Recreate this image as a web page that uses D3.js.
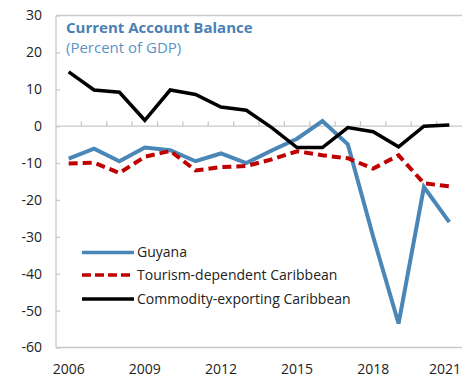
<!DOCTYPE html>
<html>
<head>
<meta charset="utf-8">
<script src="https://cdn.jsdelivr.net/npm/d3@7"></script>
<style>
  html, body { margin: 0; padding: 0; background: #fff; }
  svg { display: block; font-family: "Open Sans", "Noto Sans", sans-serif; }
</style>
</head>
<body>
<svg id="chart" width="462" height="377"></svg>
<script>
// Years on the horizontal axis
const years = [2006, 2007, 2008, 2009, 2010, 2011, 2012, 2013, 2014, 2015, 2016, 2017, 2018, 2019, 2020, 2021];

// Current account balance, percent of GDP
const guyana = [-8.8, -6.1, -9.5, -5.8, -6.5, -9.5, -7.4, -10.0, -6.6, -3.4, 1.4, -4.9, -30.0, -53.5, -16.5, -26.0];
const tourism = [-10.1, -9.9, -12.7, -8.3, -6.7, -12.0, -11.1, -10.8, -9.0, -6.8, -7.9, -8.7, -11.5, -7.9, -15.5, -16.3];
const commodity = [14.7, 9.8, 9.2, 1.6, 9.8, 8.6, 5.2, 4.3, -0.4, -5.8, -5.8, -0.4, -1.5, -5.6, 0.0, 0.3];

// Axis tick labels
const yTicks = [30, 20, 10, 0, -10, -20, -30, -40, -50, -60];
const xLabelYears = [2006, 2009, 2012, 2015, 2018, 2021];

const seriesNames = ["Guyana", "Tourism-dependent Caribbean", "Commodity-exporting Caribbean"];

const svg = d3.select("#chart");
const W = 462, H = 377;
const m = { left: 56, right: 0, top: 15.5, bottom: 29.5 };

const x = d3.scaleBand().domain(years).range([m.left, W - m.right]);
const y = d3.scaleLinear().domain([-60, 30]).range([H - m.bottom, m.top]);
const cx = d => x(d) + x.bandwidth() / 2;

const gridCol = "#c9c9c9";
const textCol = "#222";

// Plot frame: left, top and bottom edges
svg.append("line").attr("x1", m.left).attr("x2", m.left).attr("y1", y(30)).attr("y2", y(-60))
  .attr("stroke", gridCol).attr("stroke-width", 1.3);
svg.append("line").attr("x1", m.left).attr("x2", W).attr("y1", y(30)).attr("y2", y(30))
  .attr("stroke", gridCol).attr("stroke-width", 1.3);
svg.append("line").attr("x1", m.left).attr("x2", W).attr("y1", y(-60)).attr("y2", y(-60))
  .attr("stroke", gridCol).attr("stroke-width", 1.3);

// Zero line with category tick marks between years
svg.append("line").attr("x1", m.left).attr("x2", W).attr("y1", y(0)).attr("y2", y(0))
  .attr("stroke", gridCol).attr("stroke-width", 1.3);
svg.append("g").selectAll("line").data(years.slice(1)).join("line")
  .attr("x1", d => x(d)).attr("x2", d => x(d))
  .attr("y1", y(0)).attr("y2", y(0) - 5)
  .attr("stroke", gridCol).attr("stroke-width", 1.3);

// Y axis: inward ticks and labels
const yAxis = svg.append("g").attr("transform", `translate(${m.left},0)`)
  .call(d3.axisRight(y).tickValues(yTicks).tickSize(4).tickFormat(""));
yAxis.select(".domain").remove();
yAxis.selectAll(".tick line").attr("stroke", gridCol).attr("stroke-width", 1.3);

svg.append("g").selectAll("text").data(yTicks).join("text")
  .attr("x", 42).attr("y", d => y(d)).attr("dy", "0.35em")
  .attr("text-anchor", "end").attr("font-size", 14).attr("fill", textCol)
  .text(d => d);

// X axis labels; the last one is kept inside the right edge
svg.append("g").selectAll("text").data(xLabelYears).join("text")
  .attr("x", d => Math.min(cx(d), W - 1 - 16))
  .attr("y", 374)
  .attr("text-anchor", "middle").attr("font-size", 14).attr("fill", textCol)
  .text(d => d);

// Title
svg.append("text").attr("x", 66).attr("y", 33)
  .attr("font-size", 15).attr("font-weight", "bold").attr("fill", "#4a80b3")
  .text("Current Account Balance");
svg.append("text").attr("x", 66).attr("y", 53)
  .attr("font-size", 15).attr("fill", "#5b93c7")
  .text("(Percent of GDP)");

// Series lines
const line = d3.line().x((d, i) => cx(years[i])).y(d => y(d));

const styles = [
  { data: guyana, color: "#4a86b6", width: 4, dash: null },
  { data: tourism, color: "#c00000", width: 4, dash: "9,5" },
  { data: commodity, color: "#000000", width: 3.5, dash: null }
];

styles.forEach(s => {
  svg.append("path").datum(s.data)
    .attr("fill", "none")
    .attr("stroke", s.color)
    .attr("stroke-width", s.width)
    .attr("stroke-linejoin", "miter")
    .attr("stroke-dasharray", s.dash)
    .attr("d", line);
});

// Legend
const legendY = [252.5, 275, 299];
const lg = svg.append("g");
styles.forEach((s, i) => {
  lg.append("line")
    .attr("x1", 82).attr("x2", 134)
    .attr("y1", legendY[i]).attr("y2", legendY[i])
    .attr("stroke", s.color).attr("stroke-width", 3.5)
    .attr("stroke-dasharray", s.dash ? "9,4" : null);
  lg.append("text")
    .attr("x", 137).attr("y", legendY[i]).attr("dy", "0.35em")
    .attr("font-size", 14).attr("fill", textCol)
    .text(seriesNames[i]);
});
</script>
</body>
</html>
